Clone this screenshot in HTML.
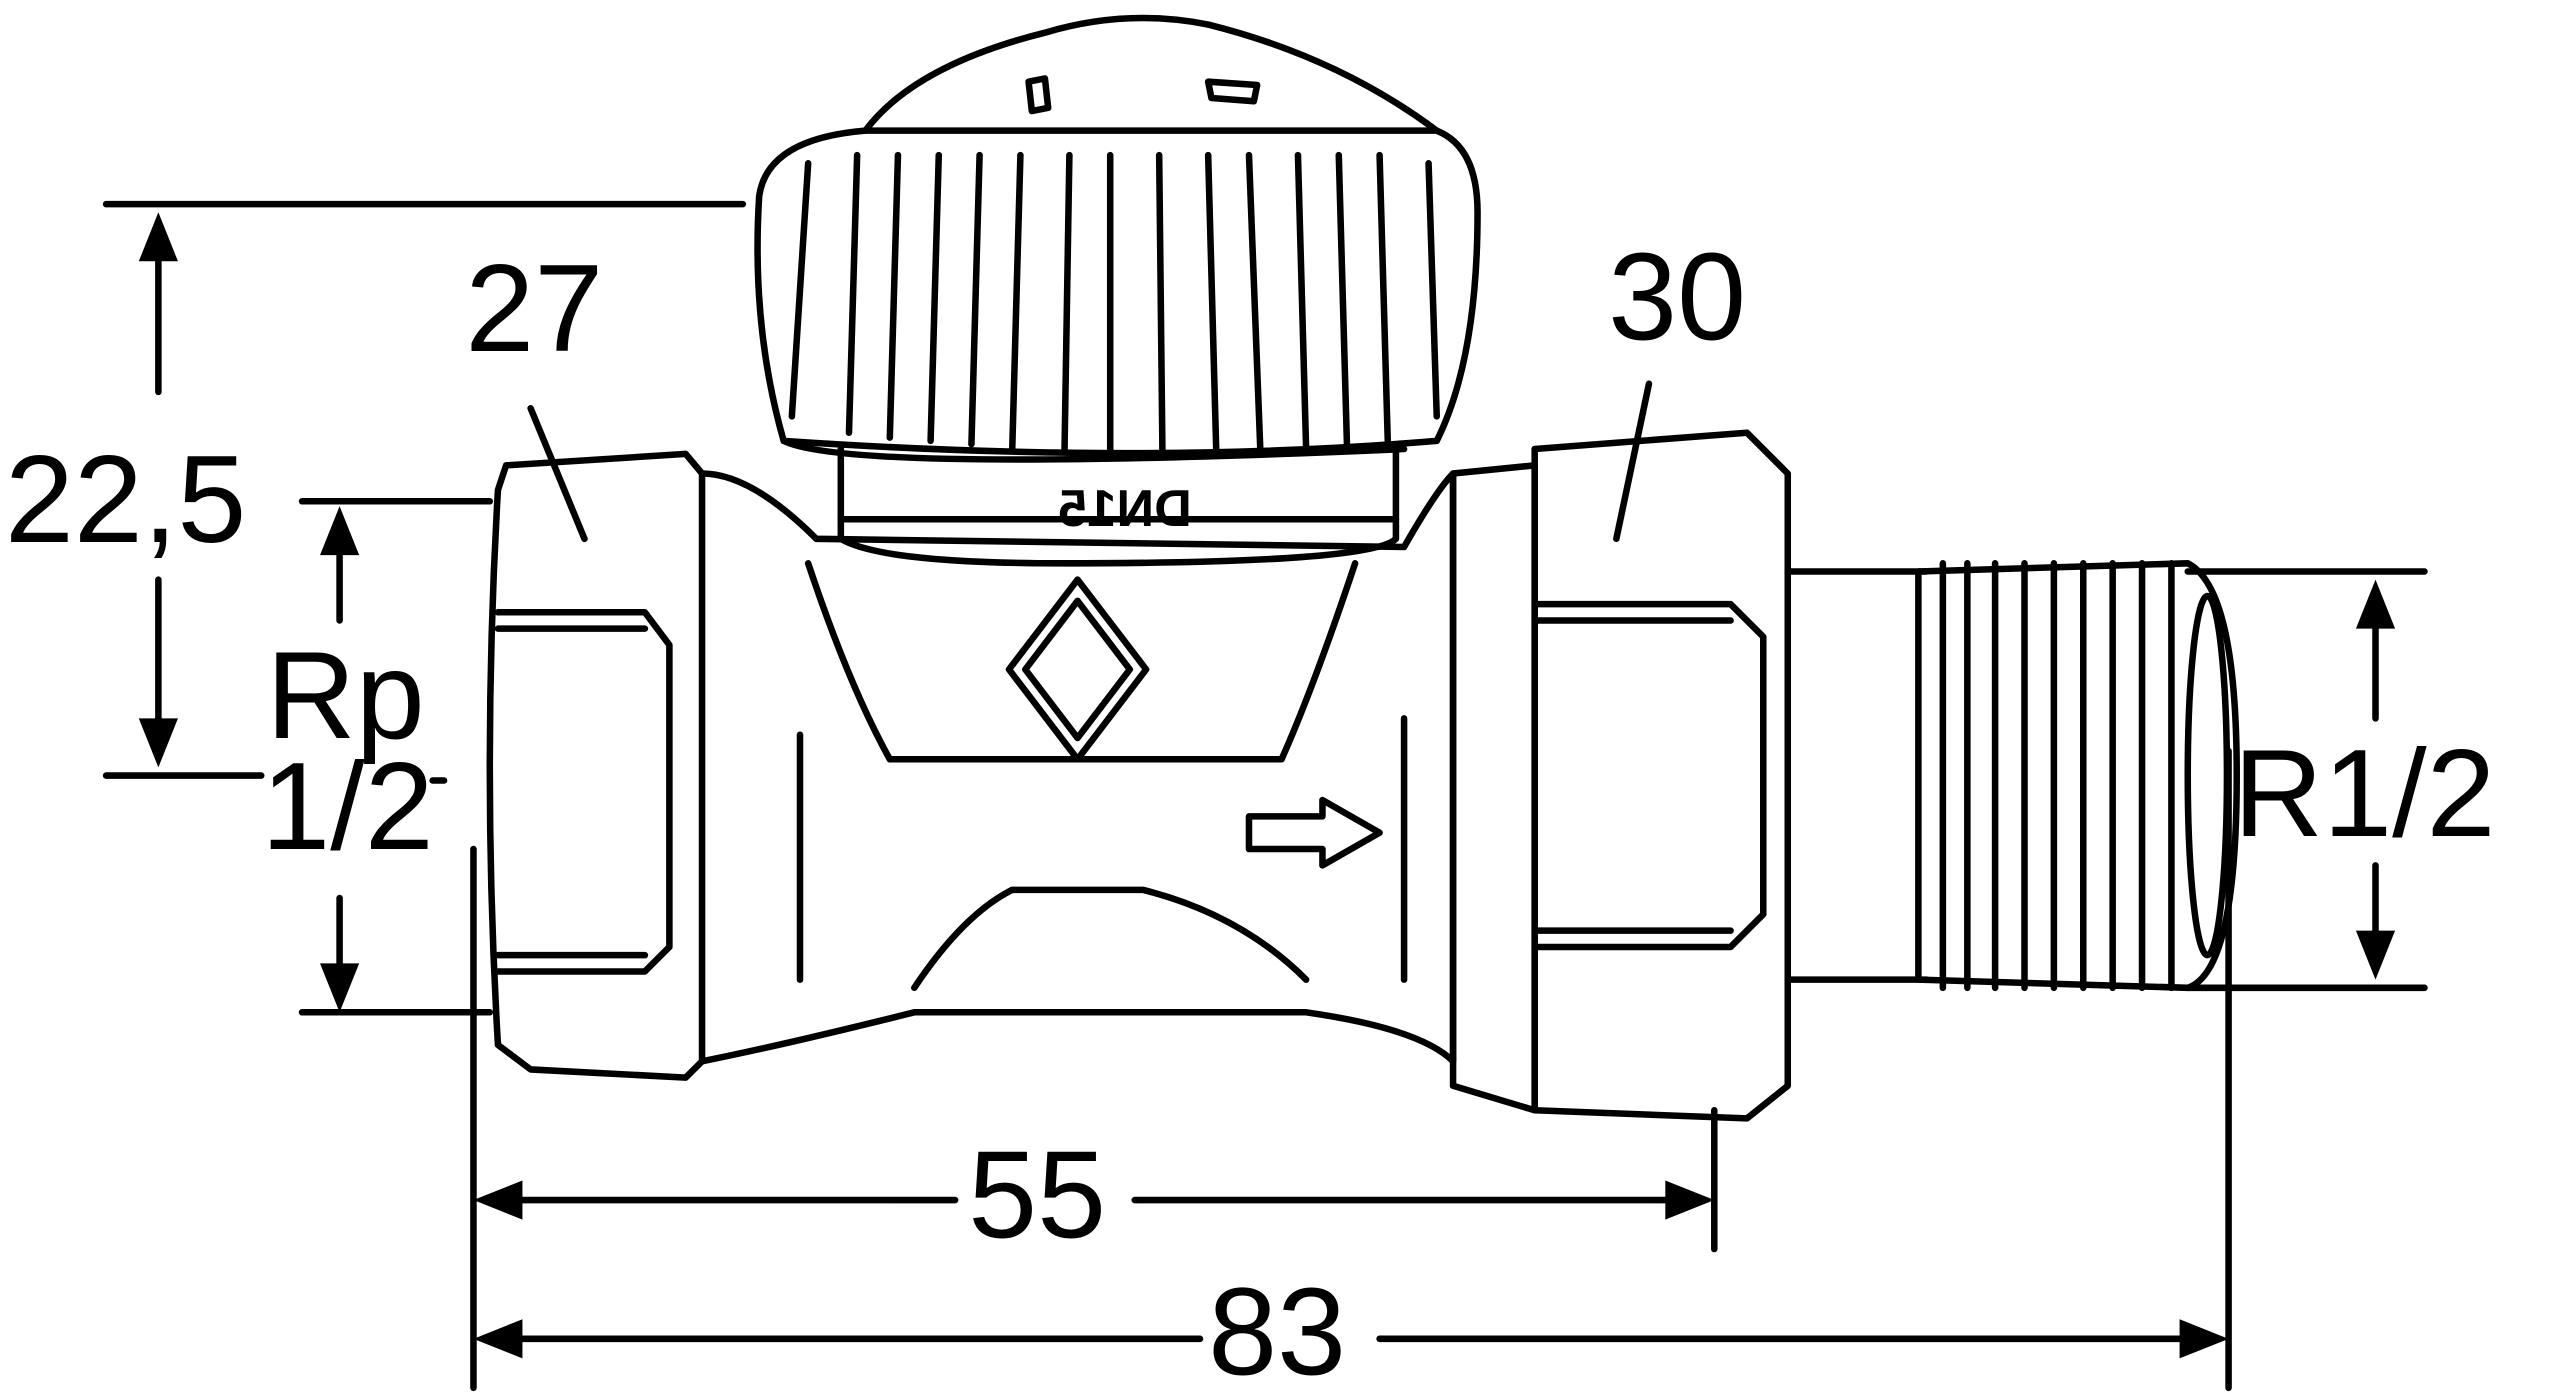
<!DOCTYPE html>
<html><head><meta charset="utf-8"><style>html,body{margin:0;padding:0;background:#fff}svg{display:block}</style></head>
<body>
<svg width="2560" height="1397" viewBox="0 0 1568 855.6" xmlns="http://www.w3.org/2000/svg" font-family="Liberation Sans, sans-serif">
<g fill="none" stroke="#000" stroke-width="4" stroke-linejoin="round" stroke-linecap="round">
<line x1="65" y1="125" x2="455" y2="125"/>
<line x1="97" y1="150" x2="97" y2="240"/>
<line x1="97" y1="355" x2="97" y2="450"/>
<line x1="65" y1="475" x2="160" y2="475"/>
<line x1="185" y1="307" x2="300" y2="307"/>
<line x1="208" y1="330" x2="208" y2="380"/>
<line x1="208" y1="550" x2="208" y2="600"/>
<line x1="185" y1="620" x2="300" y2="620"/>
<line x1="265" y1="478" x2="272" y2="478"/>
<line x1="290" y1="520" x2="290" y2="850"/>
<line x1="1050" y1="680" x2="1050" y2="765"/>
<line x1="1365" y1="460" x2="1365" y2="850"/>
<line x1="310" y1="735" x2="585" y2="735"/>
<line x1="695" y1="735" x2="1030" y2="735"/>
<line x1="310" y1="820" x2="735" y2="820"/>
<line x1="845" y1="820" x2="1345" y2="820"/>
<line x1="1340" y1="350" x2="1485" y2="350"/>
<line x1="1340" y1="605" x2="1485" y2="605"/>
<line x1="1455" y1="375" x2="1455" y2="440"/>
<line x1="1455" y1="530" x2="1455" y2="585"/>
<line x1="325" y1="250" x2="358" y2="330"/>
<line x1="1010" y1="235" x2="990" y2="330"/>
<path d="M310 285 L420 278 L430 290 L430 650 L420 660 L325 655 L305 640 Q295 470 305 300 Z"/>
<path d="M305 375 L395 375 L410 395 L410 580 L395 595 L305 595"/>
<path d="M305 385 L395 385 M305 585 L395 585"/>
<path d="M430 290 Q460 290 500 330 L860 335 Q880 300 890 290 L890 650 Q870 630 800 620 L560 620 Q480 640 430 650"/>
<path d="M495 345 Q520 420 545 465 L785 465 Q805 420 830 345"/>
<path d="M560 605 Q590 560 620 545 L700 545 Q760 560 800 600"/>
<line x1="490" y1="450" x2="490" y2="600"/>
<line x1="860" y1="440" x2="860" y2="600"/>
<path d="M618 410 L660 355 L702 410 L660 465 Z"/>
<path d="M628 410 L660 368 L692 410 L660 452 Z"/>
<path d="M765 500 L810 500 L810 490 L845 510 L810 530 L810 520 L765 520 Z"/>
<path d="M515 275 L515 330 Q540 345 650 345 Q840 345 855 330 L855 275"/>
<line x1="515" y1="318" x2="855" y2="318"/>
<path d="M480 270 Q460 200 465 120 Q470 85 530 80 L880 80 Q905 90 905 130 Q905 220 880 270 Q700 285 480 270 Z"/>
<path d="M530 80 Q560 40 640 20 Q690 5 740 15 Q820 35 880 80"/>
<path d="M480 270 Q520 290 860 275"/>
<path d="M525 95 L520 265 M575 95 L570 270 M625 95 L620 275 M680 95 L680 278 M740 95 L745 278 M795 95 L800 275 M845 95 L850 270 M495 100 L485 255 M875 100 L880 255"/>
<path d="M550 95 L545 268 M600 95 L595 272 M655 95 L652 277 M710 95 L712 278 M765 95 L772 277 M820 95 L825 272"/>
<path d="M630 50 L640 48 L642 66 L632 68 Z M740 50 L770 52 L768 62 L742 60 Z"/>
<path d="M890 290 L940 285 L940 680 L890 665 Z"/>
<path d="M940 275 L1070 265 L1095 290 L1095 665 L1070 685 L940 680 Z"/>
<path d="M940 370 L1060 370 L1080 390 L1080 560 L1060 580 L940 580"/>
<path d="M940 380 L1060 380 M940 570 L1060 570"/>
<path d="M1095 350 L1180 350 M1095 600 L1180 600"/>
<path d="M1175 350 L1340 345 Q1370 360 1370 475 Q1370 595 1340 605 L1175 600 Z"/>
<path d="M1190 345 L1190 605 M1205 345 L1205 605 M1222 345 L1222 605 M1240 345 L1240 605 M1258 345 L1258 605 M1276 345 L1276 605 M1294 345 L1294 605 M1312 345 L1312 605 M1330 345 L1330 605"/>
<ellipse cx="1352" cy="475" rx="12" ry="110"/>
</g>
<g fill="#000">
<polygon points="97,130 85,160 109,160"/>
<polygon points="97,470 85,440 109,440"/>
<polygon points="208,310 196,340 220,340"/>
<polygon points="208,620 196,590 220,590"/>
<polygon points="290,735 320,723 320,747"/>
<polygon points="1050,735 1020,723 1020,747"/>
<polygon points="290,820 320,808 320,832"/>
<polygon points="1365,820 1335,808 1335,832"/>
<polygon points="1455,355 1443,385 1467,385"/>
<polygon points="1455,600 1443,570 1467,570"/>
</g>
<g font-size="76" fill="#000">
<text x="3" y="332">22,5</text>
<text x="163" y="452">Rp</text>
<text x="160" y="520">1/2</text>
<text x="285" y="215">27</text>
<text x="985" y="208">30</text>
<text x="593" y="758">55</text>
<text x="740" y="842">83</text>
<text x="1368" y="512">R1/2</text>
</g>
<text transform="translate(730,322) scale(-1,1)" font-size="32" font-weight="bold">DN15</text>
</svg>
</body></html>
